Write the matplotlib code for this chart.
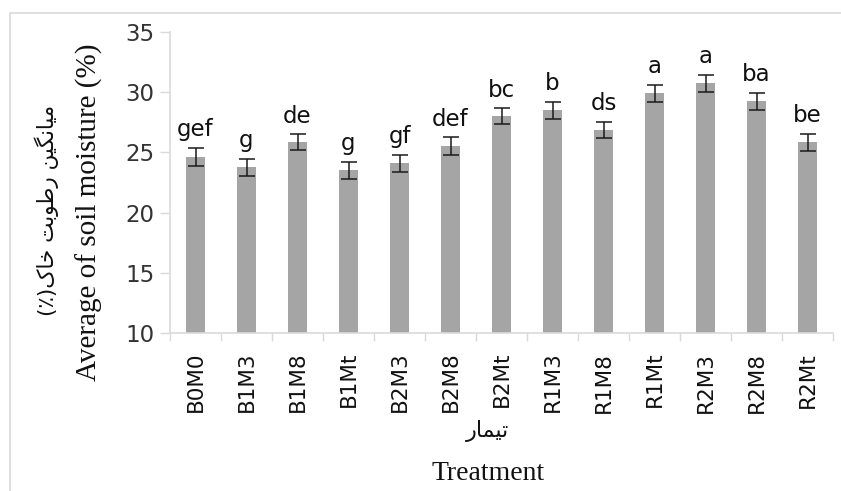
#!/usr/bin/env python3

# Matplotlib for charts
import matplotlib
matplotlib.use('Agg')
import matplotlib.pyplot as plt
from matplotlib.patches import Rectangle
import numpy as np


############################################################


# Treatments, mean soil moisture (%), error bars, and group letters
treatments = ['B0M0', 'B1M3', 'B1M8', 'B1Mt', 'B2M3', 'B2M8', 'B2Mt',
              'R1M3', 'R1M8', 'R1Mt', 'R2M3', 'R2M8', 'R2Mt']
moisture   = [24.6, 23.75, 25.85, 23.5, 24.1, 25.5, 28.0,
              28.5, 26.85, 29.9, 30.75, 29.25, 25.85]
errors     = [0.75, 0.7, 0.65, 0.7, 0.7, 0.75, 0.65,
              0.7, 0.65, 0.7, 0.7, 0.7, 0.7]
letters    = ['gef', 'g', 'de', 'g', 'gf', 'def', 'bc',
              'b', 'ds', 'a', 'a', 'ba', 'be']

yticks = [10, 15, 20, 25, 30, 35]

ylabel_en = 'Average of soil moisture (%)'
ylabel_fa = 'میانگین رطوبت خاک(٪)'
xlabel_en = 'Treatment'
xlabel_fa = 'تیمار'


############################################################


"""
matplotlib has no arabic shaping / bidi, so join the letters by hand
(presentation forms) and flip the string to visual order
"""
FORMS = {
	# isolated, final, initial, medial
	'ا': ('\uFE8D', '\uFE8E', None, None),
	'ب': ('\uFE8F', '\uFE90', '\uFE91', '\uFE92'),
	'ت': ('\uFE95', '\uFE96', '\uFE97', '\uFE98'),
	'خ': ('\uFEA5', '\uFEA6', '\uFEA7', '\uFEA8'),
	'ر': ('\uFEAD', '\uFEAE', None, None),
	'ط': ('\uFEC1', '\uFEC2', '\uFEC3', '\uFEC4'),
	'م': ('\uFEE1', '\uFEE2', '\uFEE3', '\uFEE4'),
	'ن': ('\uFEE5', '\uFEE6', '\uFEE7', '\uFEE8'),
	'و': ('\uFEED', '\uFEEE', None, None),
	'ک': ('\uFB8E', '\uFB8F', '\uFB90', '\uFB91'),
	'گ': ('\uFB92', '\uFB93', '\uFB94', '\uFB95'),
	'ی': ('\uFBFC', '\uFBFD', '\uFBFE', '\uFBFF'),
}
MIRROR = {'(': ')', ')': '('}

def to_visual(text):
	out = []
	for i, ch in enumerate(text):
		f = FORMS.get(ch)
		if f is None:
			out.append(MIRROR.get(ch, ch))
			continue
		prev = FORMS.get(text[i-1]) if i > 0 else None
		nxt  = FORMS.get(text[i+1]) if i+1 < len(text) else None
		join_prev = prev is not None and prev[2] is not None
		join_next = nxt is not None and f[2] is not None
		if join_prev and join_next:
			out.append(f[3])
		elif join_prev:
			out.append(f[1])
		elif join_next:
			out.append(f[2])
		else:
			out.append(f[0])
	return ''.join(reversed(out))


############################################################


W, H = 841, 491
fig = plt.figure(figsize=(W/100, H/100), dpi=100, facecolor='white')
ax = fig.add_axes([170/W, 1-333/H, 663/W, 301/H])

sans  = ['DejaVu Sans']
serif = ['Liberation Serif', 'DejaVu Serif']
grey_line = '#d9d9d9'

x = np.arange(len(treatments))

ax.bar(x, moisture, width=0.38, color='#a5a5a5', zorder=2)
ax.errorbar(x, moisture, yerr=errors, fmt='none', ecolor='#1a1a1a',
			elinewidth=1.1, capsize=6, capthick=1.1, zorder=3)

# Significance letters above the error bars
for xi, m, e, lab in zip(x, moisture, errors, letters):
	ax.annotate(lab, xy=(xi, m+e), xytext=(0, 8.5), textcoords='offset points',
				ha='center', va='baseline', fontsize=16.5, family=sans, color='#111111')

ax.set_xlim(-0.5, len(treatments)-0.5)
ax.set_ylim(10, 35)
ax.set_yticks(yticks)
ax.set_yticklabels([str(t) for t in yticks], family=sans, fontsize=16.5, color='#333333')

# Category labels on major ticks, tick marks between categories
ax.set_xticks(x)
ax.set_xticklabels(treatments, rotation=90, family=sans, fontsize=15.5, color='#111111')
ax.set_xticks(np.arange(len(treatments)+1)-0.5, minor=True)
ax.tick_params(axis='x', which='major', length=0, pad=13.5)
ax.tick_params(axis='x', which='minor', length=6, width=1, color=grey_line)
ax.tick_params(axis='y', length=7, width=1, color=grey_line, pad=4)

for side in ['top', 'right']:
	ax.spines[side].set_visible(False)
for side in ['left', 'bottom']:
	ax.spines[side].set_color(grey_line)
	ax.spines[side].set_linewidth(1.2)


############################################################


# Axis titles (english + persian)
fig.text(89/W, 1-212/H, ylabel_en, rotation=90, ha='center', va='center',
		 family=serif, fontsize=21, color='#111111')
fig.text(47/W, 1-210/H, to_visual(ylabel_fa), rotation=90, ha='center', va='center',
		 family=sans, fontsize=15.5, color='#111111')
fig.text(487/W, 1-431/H, to_visual(xlabel_fa), ha='center', va='center',
		 family=sans, fontsize=16, color='#111111')
fig.text(488/W, 1-474/H, xlabel_en, ha='center', va='center',
		 family=serif, fontsize=20, color='#111111')

# Chart border (runs off the right and bottom edges)
fig.patches.append(Rectangle((10/W, -0.1), 1.0, 1.1-13/H, transform=fig.transFigure,
							 fill=False, edgecolor=grey_line, linewidth=1.2))

plt.savefig('out.png', dpi=100, facecolor='white')
